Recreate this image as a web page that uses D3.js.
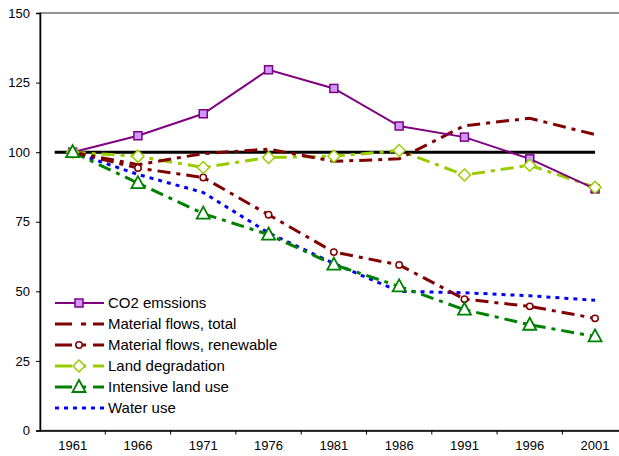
<!DOCTYPE html>
<meta charset="utf-8" />
<title>Indicators 1961-2001</title>
<style>
  body { margin: 0; background: #fff; }
  svg { display: block; }
  text { font-family: "Liberation Sans", Arial, sans-serif; fill: #000; }
  .tick text { font-size: 13px; }
  .legend text { font-size: 15px; }
</style>
<body>
<svg width="619" height="456"></svg>
<script src="https://d3js.org/d3.v7.min.js"></script>
<script>
  // data (index, 1961 = 100)
  const years = ["1961", "1966", "1971", "1976", "1981", "1986", "1991", "1996", "2001"];
  const co2 = [100, 105.9, 113.8, 129.6, 122.9, 109.4, 105.4, 97.6, 86.8];
  const matTotal = [100, 95.5, 99.5, 101.1, 96.7, 97.6, 109.5, 112.2, 106.3];
  const matRenew = [100, 94.3, 90.9, 77.5, 64.1, 59.5, 47.2, 44.6, 40.3];
  const landDeg = [100, 98.5, 94.5, 98.1, 98.5, 100.6, 91.8, 95.3, 87.4];
  const intensive = [100, 88.9, 77.9, 70.4, 59.6, 51.8, 43.4, 38, 33.8];
  const water = [100, 92, 85.5, 71, 60, 50, 49.5, 48.4, 46.8];
  const yTicks = [0, 25, 50, 75, 100, 125, 150];

  const series = [
    { name: "CO2 emssions", values: co2, color: "#800080", width: 2, dash: null, marker: "square" },
    { name: "Material flows, total", values: matTotal, color: "#800000", width: 3, dash: "13,6,4,6", marker: null },
    { name: "Material flows, renewable", values: matRenew, color: "#800000", width: 3, dash: "13,6,4,6", marker: "circle" },
    { name: "Land degradation", values: landDeg, color: "#99CC00", width: 3, dash: "13,6,4,6", marker: "diamond" },
    { name: "Intensive land use", values: intensive, color: "#008000", width: 3, dash: "13,6,4,6", marker: "triangle" },
    { name: "Water use", values: water, color: "#0000FF", width: 3, dash: "4,5", marker: null }
  ];

  const svg = d3.select("svg");
  const plotL = 40, plotT = 13, plotB = 430.5;
  const step = 65.3;
  const plotR = plotL + step * years.length;

  const x = d3.scaleBand().domain(years).range([plotL, plotR]);
  const y = d3.scaleLinear().domain([0, 150]).range([plotB, plotT]);
  const cx = d => x(d) + x.bandwidth() / 2;

  // plot border (right side falls outside the picture)
  svg.append("rect")
    .attr("x", plotL).attr("y", plotT)
    .attr("width", plotR - plotL).attr("height", plotB - plotT)
    .attr("fill", "none").attr("stroke", "#707070").attr("stroke-width", 1.5);

  // axes
  const yAxis = svg.append("g")
    .attr("transform", `translate(${plotL},0)`)
    .call(d3.axisLeft(y).tickValues(yTicks).tickSize(4).tickPadding(6));
  yAxis.select(".domain").attr("stroke", "#000").attr("stroke-width", 1.5);

  const xAxis = svg.append("g")
    .attr("transform", `translate(0,${plotB})`)
    .call(d3.axisBottom(x).tickSize(0).tickPadding(10));
  xAxis.select(".domain").attr("stroke", "#000").attr("stroke-width", 1.5);
  // tick marks sit on category boundaries
  xAxis.selectAll(".boundary")
    .data(years.slice(1))
    .join("line")
    .attr("class", "boundary")
    .attr("x1", d => x(d)).attr("x2", d => x(d))
    .attr("y1", 0).attr("y2", 4)
    .attr("stroke", "#000");

  const line = vals => d3.line()
    .x((d, i) => cx(years[i]))
    .y(d => y(d))(vals);

  // reference line at 100
  svg.append("path")
    .attr("d", d3.line()([[cx(years[0]) - 18, y(100)], [cx(years[years.length - 1]), y(100)]]))
    .attr("stroke", "#000").attr("stroke-width", 3).attr("fill", "none");

  // draw series in reverse so CO2 lies on top
  const lines = svg.append("g");
  series.slice().reverse().forEach(s => {
    lines.append("path")
      .attr("d", line(s.values))
      .attr("fill", "none")
      .attr("stroke", s.color)
      .attr("stroke-width", s.width)
      .attr("stroke-dasharray", s.dash);
  });

  function drawMarker(g, type, color, px, py) {
    if (type === "square") {
      g.append("rect").attr("x", px - 4).attr("y", py - 4).attr("width", 8).attr("height", 8)
        .attr("fill", "#CC99FF").attr("stroke", color).attr("stroke-width", 1.5);
    } else if (type === "circle") {
      g.append("circle").attr("cx", px).attr("cy", py).attr("r", 3.2)
        .attr("fill", "#fff").attr("stroke", color).attr("stroke-width", 1.5);
    } else if (type === "diamond") {
      g.append("path").attr("d", `M${px},${py - 6}L${px + 6},${py}L${px},${py + 6}L${px - 6},${py}Z`)
        .attr("fill", "#fff").attr("stroke", color).attr("stroke-width", 1.5);
    } else if (type === "triangle") {
      g.append("path").attr("d", `M${px},${py - 7}L${px + 6.5},${py + 5}L${px - 6.5},${py + 5}Z`)
        .attr("fill", "#fff").attr("stroke", color).attr("stroke-width", 1.8);
    }
  }

  const markers = svg.append("g");
  series.forEach(s => {
    if (!s.marker) return;
    s.values.forEach((v, i) => drawMarker(markers, s.marker, s.color, cx(years[i]), y(v)));
  });

  // legend
  const legend = svg.append("g").attr("class", "legend");
  const ly = d3.scaleBand().domain(series.map(s => s.name)).range([292.5, 418.5]);
  series.forEach(s => {
    const yy = ly(s.name) + ly.bandwidth() / 2;
    const legDash = s.dash === null ? null : (s.color === "#0000FF" ? s.dash : "17,9,5,7");
    legend.append("line")
      .attr("x1", 55).attr("x2", 104).attr("y1", yy).attr("y2", yy)
      .attr("stroke", s.color).attr("stroke-width", s.width)
      .attr("stroke-dasharray", legDash);
    if (s.marker) drawMarker(legend, s.marker, s.color, 79, yy);
    legend.append("text")
      .attr("x", 108).attr("y", yy).attr("dy", "0.35em")
      .text(s.name);
  });
</script>
</body>
